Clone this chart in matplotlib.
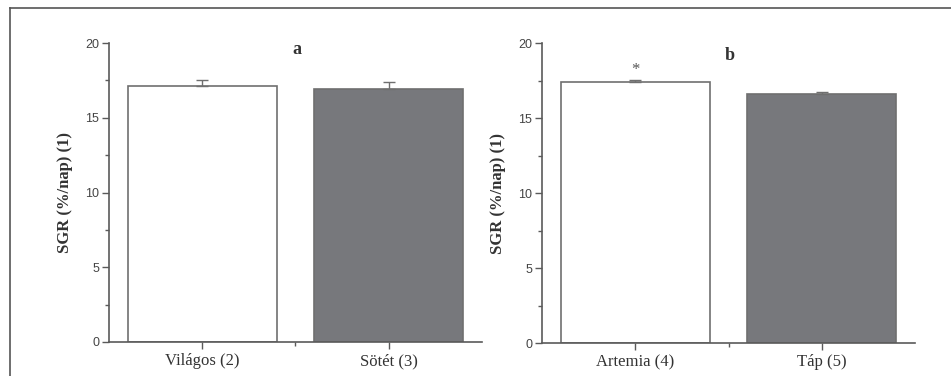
import matplotlib
matplotlib.use("Agg")
import matplotlib.pyplot as plt
from matplotlib.lines import Line2D
from matplotlib.ticker import MultipleLocator, FixedLocator

# Data
cats_a = ["Világos (2)", "Sötét (3)"]
vals_a = [17.1, 16.95]
errs_a = [0.42, 0.45]

cats_b = ["Artemia (4)", "Táp (5)"]
vals_b = [17.4, 16.65]
errs_b = [0.13, 0.1]
sig_b = ["*", ""]

panel_letters = ["a", "b"]
ylabel = "SGR (%/nap) (1)"
colors = ["#ffffff", "#77787c"]

W, H = 951, 376
fig = plt.figure(figsize=(W / 100, H / 100), dpi=100)
fig.patch.set_facecolor("white")

axis_col = "#5a5a5a"
serif = ["Liberation Serif", "DejaVu Serif"]
sans = ["Liberation Sans", "DejaVu Sans"]

positions = [
    [109 / W, (H - 342) / H, 373 / W, 299 / H],
    [542 / W, (H - 343.3) / H, 373 / W, 300 / H],
]
letter_pos = [(297, 50), (730, 55)]

for i, (cats, vals, errs) in enumerate([(cats_a, vals_a, errs_a), (cats_b, vals_b, errs_b)]):
    ax = fig.add_axes(positions[i])
    x = [1, 2]
    ax.bar(x, vals, width=0.8, color=colors, edgecolor="#6f6f6f", linewidth=1.2, zorder=2)
    ax.errorbar(x, vals, yerr=[[0, 0], errs], fmt="none", ecolor="#6f6f6f",
                elinewidth=1.0, capsize=4, capthick=1.0, zorder=3)
    ax.set_xlim(0.5, 2.5)
    ax.set_ylim(0, 20)
    ax.yaxis.set_major_locator(MultipleLocator(5))
    ax.yaxis.set_minor_locator(MultipleLocator(2.5))
    ax.xaxis.set_major_locator(FixedLocator(x))
    ax.xaxis.set_minor_locator(FixedLocator([1.5]))
    ax.set_xticklabels(cats, fontfamily=serif, fontsize=12, color="#333333")
    for lab in ax.get_yticklabels():
        lab.set_fontfamily(sans)
        lab.set_fontsize(9)
        lab.set_color("#444444")
    ax.tick_params(axis="both", which="major", direction="out", length=5, width=1.0, color=axis_col)
    ax.tick_params(axis="both", which="minor", direction="out", length=3, width=1.0, color=axis_col)
    ax.tick_params(axis="x", pad=3)
    ax.tick_params(axis="y", pad=2)
    for s in ["top", "right"]:
        ax.spines[s].set_visible(False)
    for s in ["left", "bottom"]:
        ax.spines[s].set_color(axis_col)
        ax.spines[s].set_linewidth(1.2)
    ax.set_ylabel(ylabel, fontfamily=serif, fontweight="bold", fontsize=12, color="#333333", labelpad=9)
    if i == 1:
        for xi, v, e, s in zip(x, vals, errs, sig_b):
            if s:
                ax.text(xi, v + e + 0.15, s, ha="center", va="bottom", fontfamily=serif,
                        fontsize=12, color="#555555")
    lx, ly = letter_pos[i]
    fig.text(lx / W, 1 - ly / H, panel_letters[i], ha="center", va="center",
             fontfamily=serif, fontweight="bold", fontsize=13, color="#333333")

# Outer frame lines
fig.add_artist(Line2D([9.5 / W, 9.5 / W], [0, 1 - 7.5 / H], transform=fig.transFigure,
                      color="#555555", linewidth=1.2))
fig.add_artist(Line2D([9.5 / W, 1], [1 - 7.5 / H, 1 - 7.5 / H], transform=fig.transFigure,
                      color="#555555", linewidth=1.2))

fig.savefig("out.png", dpi=100)
